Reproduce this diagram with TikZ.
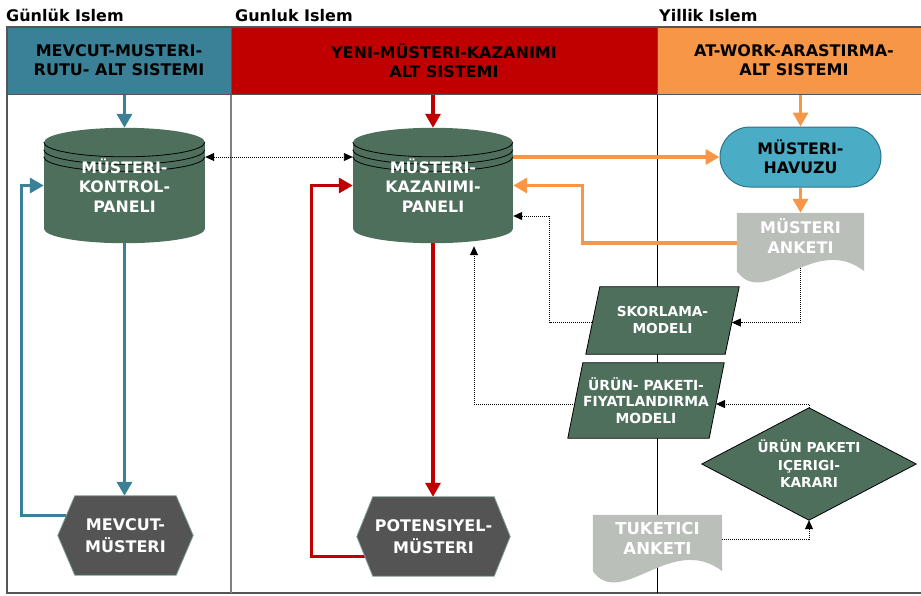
\documentclass[tikz,border=0pt]{standalone}
\usepackage{fontspec}
\setmainfont{DejaVu Sans}
\usetikzlibrary{calc,arrows.meta}
\pgfdeclarelayer{lanes}
\pgfdeclarelayer{edges}
\pgfdeclarelayer{shapes}
\pgfsetlayers{lanes,edges,shapes,main}

\definecolor{laneTeal}{HTML}{3A8197}
\definecolor{laneRed}{HTML}{C00000}
\definecolor{laneOrange}{HTML}{F79646}
\definecolor{panelGreen}{HTML}{4F6F5D}
\definecolor{hexGray}{HTML}{545454}
\definecolor{hexEdge}{HTML}{7F9C8C}
\definecolor{docGray}{HTML}{BBBFBA}
\definecolor{poolBlue}{HTML}{4BACC6}
\definecolor{poolEdge}{HTML}{2F7388}
\definecolor{frameGray}{HTML}{555555}
\definecolor{dividerGray}{HTML}{808080}

\newcommand{\fs}[2]{\fontsize{#1}{#2}\selectfont}

% database cylinder with three rings on its lid: #1 node, #2 x radius
\newcommand{\drawpanel}[2]{%
  \fill[panelGreen] ($(#1.north west)+(0,14.5)$) rectangle ($(#1.south east)+(0,-14.5)$);
  \fill[panelGreen] ($(#1.north)+(0,14.5)$) ellipse[x radius=#2pt,y radius=14.5pt];
  \fill[panelGreen] ($(#1.south)+(0,-14.5)$) ellipse[x radius=#2pt,y radius=14.5pt];
  \foreach \k in {0,7.5,14.5}
    \draw[black,line width=0.8pt] ($(#1.north west)+(0,14.5+\k)$)
      arc[start angle=180,end angle=360,x radius=#2pt,y radius=14.5pt];
}
% hexagon: #1 node, #2 chamfer width
\newcommand{\drawhex}[2]{%
  \filldraw[fill=hexGray,draw=hexEdge,line width=0.8pt]
    (#1.west) -- ([xshift=#2pt]#1.north west) -- ([xshift=-#2pt]#1.north east)
    -- (#1.east) -- ([xshift=-#2pt]#1.south east) -- ([xshift=#2pt]#1.south west) -- cycle;
}
% parallelogram: #1 node, #2 slant
\newcommand{\drawslant}[2]{%
  \filldraw[fill=panelGreen,draw=black,line width=0.8pt]
    ([xshift=#2pt]#1.north west) -- (#1.north east)
    -- ([xshift=-#2pt]#1.south east) -- (#1.south west) -- cycle;
}
% document with wavy bottom edge
\newcommand{\drawdoc}[1]{%
  \fill[docGray] (#1.north west) -- (#1.north east) -- ($(#1.south east)+(0,-12)$)
    .. controls ($(#1.south west)!0.61!(#1.south east)+(0,-51)$)
           and ($(#1.south west)!0.22!(#1.south east)+(0,27)$)
    .. ($(#1.south west)+(0,-12)$) -- cycle;
}

\begin{document}
\begin{tikzpicture}[x=1pt,y=-1pt,
  title/.style={anchor=base west,inner sep=0,font=\bfseries\fs{16}{19}},
  header/.style={minimum height=67pt,inner sep=0,align=center,
    font=\bfseries\fs{16}{19},draw=frameGray,line width=1pt},
  boxtext/.style={inner sep=0,align=center,text=white,font=\bfseries\fs{15.8}{19.5}},
  smalltext/.style={inner sep=0,align=center,text=white,font=\bfseries\fs{13.7}{17}},
  flow/.style={line width=3.3pt,-{Triangle[length=14pt,width=15pt]}},
  tealflow/.style={flow,draw=laneTeal},
  redflow/.style={flow,draw=laneRed},
  orangeflow/.style={flow,draw=laneOrange},
  dotlink/.style={draw=black,line width=0.9pt,dash pattern=on 1pt off 1pt,
    -{Triangle[length=9pt,width=8pt]}},
]
\useasboundingbox (0,0) rectangle (921,595);

% lane titles
\node[title] (t1) at (6,21) {Günlük Islem};
\node[title] (t2) at (235,21) {Gunluk Islem};
\node[title] (t3) at (659,21) {Yillik Islem};

% lane headers
\begin{scope}
  \clip (0,0) rectangle (921,595);
  \node[header,fill=laneTeal,minimum width=224pt] (h1) at (119,60.5) {MEVCUT-MUSTERI-\\RUTU- ALT SISTEMI};
  \node[header,fill=laneRed,minimum width=426pt] (h2) at (444,60.5) {YENI-MÜSTERI-KAZANIMI\\ALT SISTEMI};
  \node[header,fill=laneOrange,minimum width=274pt] (h3) at (794,60.5) {AT-WORK-ARASTIRMA-\\ALT SISTEMI};
\end{scope}

% process nodes
\node[boxtext,minimum width=161pt,minimum height=115pt] (cyl1) at (124.5,185.5) {MÜSTERI-\\KONTROL-\\PANELI};
\node[boxtext,minimum width=160pt,minimum height=115pt] (cyl2) at (433,185.5) {MÜSTERI-\\KAZANIMI-\\PANELI};
\node[boxtext,text=black,fill=poolBlue,draw=poolEdge,line width=1pt,rounded corners=30pt,
      minimum width=161pt,minimum height=60pt] (pool) at (800.5,157) {MÜSTERI-\\HAVUZU};
\node[inner sep=0,minimum width=127pt,minimum height=70pt] (doc1) at (800.5,248) {};
\node[boxtext,font=\bfseries\fs{16}{20}] (doc1txt) at ($(doc1.center)+(0,-12)$) {MÜSTERI\\ANKETI};
\node[boxtext,font=\bfseries\fs{16}{22},minimum width=135pt,minimum height=79pt] (hex1) at (125.5,535.5) {MEVCUT-\\MÜSTERI};
\node[boxtext,font=\bfseries\fs{16}{22},minimum width=153pt,minimum height=79pt] (hex2) at (433.5,536.5) {POTENSIYEL-\\MÜSTERI};
\node[smalltext,minimum width=153pt,minimum height=67pt] (sk) at (662.5,320.5) {SKORLAMA-\\MODELI};
\node[smalltext,font=\bfseries\fs{13.9}{16.5},minimum width=156pt,minimum height=75pt] (ur) at (646,400.5) {ÜRÜN- PAKETI-\\FIYATLANDIRMA\\MODELI};
\node[smalltext,font=\bfseries\fs{13.7}{17.5},minimum width=214pt,minimum height=112pt] (dia) at (809,464) {ÜRÜN PAKETI\\IÇERIGI-\\KARARI};
\node[inner sep=0,minimum width=129pt,minimum height=68pt] (doc2) at (657.5,549) {};
\node[boxtext,font=\bfseries\fs{16.5}{20}] (doc2txt) at ($(doc2.center)+(0,-11)$) {TUKETICI\\ANKETI};

% swimlane frame and dividers
\begin{pgfonlayer}{lanes}
  \draw[frameGray,line width=1.5pt] (921,27) -- (7,27) -- (7,593) -- (921,593);
  \draw[dividerGray,line width=1.5pt] (231,27) -- (231,593);
  \draw[black,line width=0.8pt] (657,27) -- (657,593);
\end{pgfonlayer}

% shape bodies
\begin{pgfonlayer}{shapes}
  \drawpanel{cyl1}{80.5}
  \drawpanel{cyl2}{80}
  \drawdoc{doc1}
  \drawdoc{doc2}
  \drawhex{hex1}{17}
  \drawhex{hex2}{16}
  \drawslant{sk}{14}
  \drawslant{ur}{15}
  \filldraw[fill=panelGreen,draw=black,line width=0.8pt]
    (dia.north) -- (dia.east) -- (dia.south) -- (dia.west) -- cycle;
\end{pgfonlayer}

% connectors
\begin{pgfonlayer}{edges}
  \draw[tealflow] (h1.south -| cyl1.north) -- (cyl1.north);
  \draw[tealflow] (cyl1.south) -- (cyl1.south |- hex1.north);
  \draw[tealflow] ($(hex1.west)!0.5!([xshift=17pt]hex1.north west)$) -- ++(-44.5,0) |- (cyl1.west);

  \draw[redflow] (h2.south -| cyl2.north) -- (cyl2.north);
  \draw[redflow] (cyl2.south) -- (cyl2.south |- hex2.north);
  \draw[redflow] ($(hex2.west)!0.5!([xshift=16pt]hex2.south west)$) -- ++(-53,0) |- (cyl2.west);

  \draw[orangeflow] (h3.south -| pool.north) -- (pool.north);
  \draw[orangeflow] ([yshift=28.5pt]cyl2.east) -- (pool.west);
  \draw[orangeflow] (pool.south) -- (doc1.north);
  \draw[orangeflow] ([yshift=5pt]doc1.west) -- ++(-154,0) |- (cyl2.east);

  \draw[dotlink,{Triangle[length=9pt,width=8pt]}-{Triangle[length=9pt,width=8pt]}]
    ([yshift=28.5pt]cyl1.east) -- ([yshift=28.5pt]cyl2.west);
  \draw[dotlink] (doc1.center) |- ($(sk.north east)!0.53!([xshift=-14pt]sk.south east)$);
  \draw[dotlink] ($([xshift=14pt]sk.north west)!0.53!(sk.south west)$) -- ++(-42.6,0)
    |- ([yshift=-30.5pt]cyl2.east);
  \draw[dotlink] ($([xshift=15pt]ur.north west)!0.547!(ur.south west)$) -| ($(cyl2.south)+(41,3)$);
  \draw[dotlink] (dia.north) |- ($(ur.north east)!0.547!([xshift=-15pt]ur.south east)$);
  \draw[dotlink] ([yshift=10pt]doc2.east) -| (dia.south);
\end{pgfonlayer}
\end{tikzpicture}
\end{document}
